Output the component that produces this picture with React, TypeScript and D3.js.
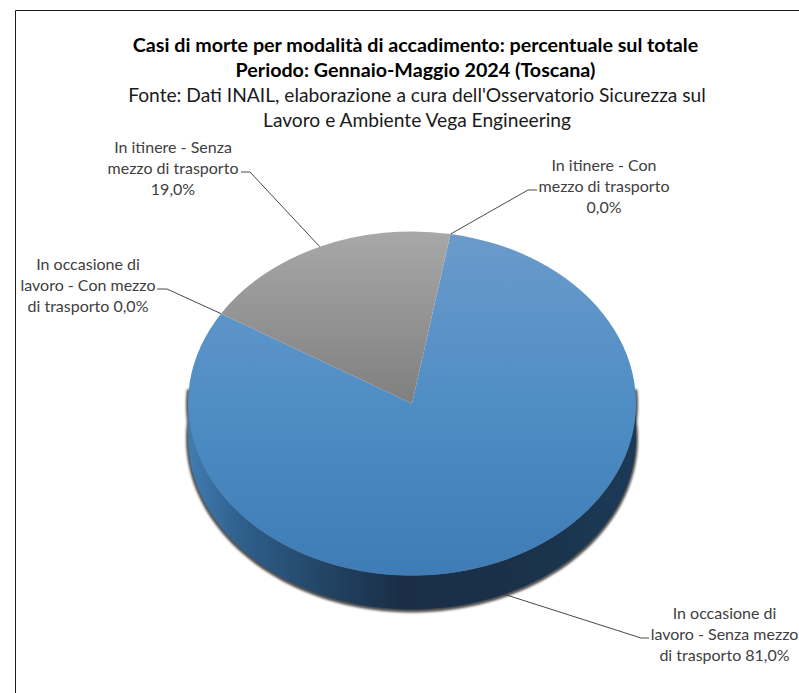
import { useRef, useEffect } from 'react';
import * as d3 from 'd3';

const WIDTH = 799;
const HEIGHT = 693;

// clockwise order, starting from the top-right edge of the grey slice
const categories = [
  'In itinere - Con mezzo di trasporto',
  'In occasione di lavoro - Senza mezzo di trasporto',
  'In occasione di lavoro - Con mezzo di trasporto',
  'In itinere - Senza mezzo di trasporto',
];
const values = [0, 81, 0, 19];
const sliceColors = ['url(#blueTop)', 'url(#blueTop)', 'url(#blueTop)', 'url(#greyTop)'];

const labelLines = [
  ['In itinere - Con', 'mezzo di trasporto', '0,0%'],
  ['In occasione di', 'lavoro - Senza mezzo', 'di trasporto 81,0%'],
  ['In occasione di', 'lavoro - Con mezzo', 'di trasporto 0,0%'],
  ['In itinere - Senza', 'mezzo di trasporto', '19,0%'],
];
// label block centre + end of its leader line
const labelPlaces = [
  { x: 604, y: 186, tipX: 537, elbow: -9 },
  { x: 724.5, y: 634, tipX: 649, elbow: -8 },
  { x: 88, y: 285, tipX: 157, elbow: 10 },
  { x: 173, y: 168, tipX: 241, elbow: 9 },
];

const titleLines = [
  'Casi di morte per modalità di accadimento: percentuale sul totale',
  'Periodo: Gennaio-Maggio 2024 (Toscana)',
];
const subtitleLines = [
  "Fonte: Dati INAIL, elaborazione a cura dell'Osservatorio Sicurezza sul",
  'Lavoro e Ambiente Vega Engineering',
];

const FONT = 'Lato, "Open Sans", sans-serif';

export default function App() {
  const svgRef = useRef<SVGSVGElement>(null);

  useEffect(() => {
    const svg = d3.select(svgRef.current);
    svg.selectAll('*').remove();

    const cx = 412;
    const cy = 403.5;
    const rx = 224;
    const ry = 172;
    const depth = 34;

    const defs = svg.append('defs');
    const gradient = (id: string, x1: number, y1: number, x2: number, y2: number, stops: [number, string][]) => {
      const g = defs.append('linearGradient')
        .attr('id', id)
        .attr('gradientUnits', 'userSpaceOnUse')
        .attr('x1', x1).attr('y1', y1).attr('x2', x2).attr('y2', y2);
      stops.forEach(([o, c]) => g.append('stop').attr('offset', o).attr('stop-color', c));
    };
    // top face gradients live in the unsquashed circle space of the pie group
    gradient('blueTop', 0, -rx, 0, rx, [[0, '#6b9bcb'], [0.5, '#4f8dc5'], [1, '#3f7cb5']]);
    gradient('greyTop', 0, -rx, 0, 0, [[0, '#a8a8a8'], [1, '#7f7f7f']]);
    gradient('blueSide', cx - rx, 0, cx + rx, 0, [
      [0, '#417cb1'], [0.12, '#2f5f8c'], [0.3, '#224566'],
      [0.47, '#1a2f47'], [0.7, '#1a3048'], [1, '#1b3a57'],
    ]);

    defs.append('filter')
      .attr('id', 'soft')
      .attr('x', '-5%').attr('y', '-5%').attr('width', '110%').attr('height', '110%')
      .append('feGaussianBlur')
      .attr('stdDeviation', 1.3);

    // chart frame: only the top and left edges are in the picture
    svg.append('path')
      .attr('d', d3.line()([[15.5, HEIGHT], [15.5, 10.5], [WIDTH, 10.5]]))
      .attr('fill', 'none')
      .attr('stroke', '#1a1a1a')
      .attr('stroke-width', 1);

    const pieGen = d3.pie<number>()
      .value(d => d)
      .sort(null)
      .startAngle((9.9 * Math.PI) / 180)
      .endAngle((369.9 * Math.PI) / 180);
    const arcs = pieGen(values);
    const arcGen = d3.arc<d3.PieArcDatum<number>>().innerRadius(0).outerRadius(rx);

    const edgePoint = (angle: number, below: number) => [
      cx + rx * Math.sin(angle),
      cy - ry * Math.cos(angle) + below,
    ] as [number, number];

    // rim of the disc between two angles (degrees, clockwise from the top)
    const rimBetween = (from: number, to: number) => {
      const angles = d3.range(from, to + 1, 2).map(a => (a * Math.PI) / 180);
      return d3.line()([
        ...angles.map(a => edgePoint(a, 0)),
        ...angles.map(a => edgePoint(a, depth)).reverse(),
      ]) + 'Z';
    };

    // Shadow behind the rim, a bit longer so its ends taper off behind the top face
    svg.append('path')
      .attr('d', rimBetween(85, 275))
      .attr('fill', '#505050')
      .attr('stroke', '#505050')
      .attr('stroke-width', 4)
      .attr('filter', 'url(#soft)')
      .attr('transform', 'translate(0,1)');

    // Leader lines, under the disc
    arcs.forEach((d, i) => {
      const mid = (d.startAngle + d.endAngle) / 2;
      const below = Math.cos(mid) < -0.5 ? depth : 0;
      const { y, tipX, elbow } = labelPlaces[i];
      svg.append('path')
        .attr('d', d3.line()([edgePoint(mid, below), [tipX + elbow, y + 4], [tipX, y + 4]]))
        .attr('fill', 'none')
        .attr('stroke', '#4a4a4a')
        .attr('stroke-width', 1);
    });

    svg.append('path').attr('d', rimBetween(90, 270)).attr('fill', 'url(#blueSide)');

    // Top face
    svg.append('g')
      .attr('transform', `translate(${cx},${cy}) scale(1,${ry / rx})`)
      .selectAll('path')
      .data(arcs)
      .join('path')
      .attr('d', d => arcGen(d) || '')
      .attr('fill', (_d, i) => sliceColors[i]);

    // Titles
    const centerX = 415.5;
    titleLines.forEach((t, i) => {
      svg.append('text')
        .attr('x', centerX)
        .attr('y', 45 + i * 25)
        .attr('dy', '0.35em')
        .attr('text-anchor', 'middle')
        .attr('font-family', FONT)
        .attr('font-size', 19.7)
        .attr('font-weight', 700)
        .attr('fill', '#000')
        .text(t);
    });
    subtitleLines.forEach((t, i) => {
      svg.append('text')
        .attr('x', centerX + 1.5)
        .attr('y', 95 + i * 25)
        .attr('dy', '0.35em')
        .attr('text-anchor', 'middle')
        .attr('font-family', FONT)
        .attr('font-size', 19.2)
        .attr('fill', '#1a1a1a')
        .text(t);
    });

    // Slice labels
    labelLines.forEach((lines, i) => {
      const place = labelPlaces[i];
      lines.forEach((t, k) => {
        svg.append('text')
          .attr('x', place.x)
          .attr('y', place.y + (k - 1) * 21)
          .attr('dy', '0.35em')
          .attr('text-anchor', 'middle')
          .attr('font-family', FONT)
          .attr('font-size', 16)
          .attr('fill', '#404040')
          .text(t);
      });
    });
  }, []);

  return (
    <svg
      ref={svgRef}
      width={WIDTH}
      height={HEIGHT}
      aria-label={categories.join(', ')}
      style={{ position: 'absolute', left: 0, top: 0, background: '#fff' }}
    />
  );
}
